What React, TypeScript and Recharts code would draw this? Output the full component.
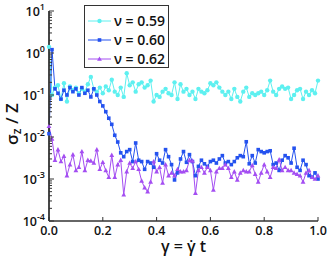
import { LineChart, Line, XAxis, YAxis, Legend, Label } from 'recharts'

const nu059 = [
  1.4, 0.1, 0.15, 0.17, 0.08, 0.19, 0.07, 0.16, 0.13, 0.15,
  0.11, 0.14, 0.12, 0.18, 0.27, 0.14, 0.12, 0.15, 0.11, 0.16,
  0.13, 0.23, 0.12, 0.1, 0.15, 0.09, 0.33, 0.17, 0.2, 0.12,
  0.18, 0.2, 0.15, 0.17, 0.22, 0.07, 0.1, 0.09, 0.12, 0.14,
  0.11, 0.1, 0.2, 0.08, 0.18, 0.12, 0.14, 0.1, 0.12, 0.08,
  0.14, 0.12, 0.11, 0.13, 0.19, 0.17, 0.2, 0.15, 0.12, 0.1,
  0.12, 0.08, 0.14, 0.09, 0.07, 0.12, 0.15, 0.09, 0.11, 0.1,
  0.11, 0.12, 0.1, 0.13, 0.22, 0.12, 0.1, 0.14, 0.16, 0.14,
  0.15, 0.08, 0.1, 0.13, 0.14, 0.08, 0.12, 0.1, 0.13, 0.11,
  0.22,
]

const nu060 = [
  0.012, 1.2, 0.14, 0.11, 0.08, 0.13, 0.1, 0.15, 0.12, 0.14,
  0.1, 0.15, 0.11, 0.13, 0.09, 0.14, 0.1, 0.07, 0.055, 0.04,
  0.028, 0.02, 0.011, 0.0076, 0.0042, 0.0034, 0.0045, 0.005, 0.0026, 0.0072,
  0.0028, 0.0026, 0.0017, 0.0026, 0.0024, 0.0019, 0.004, 0.0028, 0.0024, 0.005,
  0.0034, 0.0022, 0.00095, 0.0014, 0.003, 0.0045, 0.0025, 0.0038, 0.0026, 0.0012,
  0.002, 0.0028, 0.0023, 0.002, 0.0026, 0.0028, 0.0024, 0.003, 0.0036, 0.0024,
  0.0026, 0.0022, 0.0026, 0.0032, 0.0036, 0.0034, 0.0077, 0.0023, 0.0036, 0.0024,
  0.005, 0.0045, 0.0042, 0.0045, 0.0047, 0.0022, 0.0024, 0.0016, 0.0028, 0.0036,
  0.0032, 0.0024, 0.0054, 0.0019, 0.0016, 0.0028, 0.0022, 0.0012, 0.0011, 0.0014,
  0.001,
]

const nu062 = [
  0.018, 0.009, 0.0028, 0.005, 0.0026, 0.0035, 0.0012, 0.0022, 0.0038, 0.0016,
  0.0019, 0.0045, 0.0016, 0.0028, 0.0027, 0.0024, 0.005, 0.0017, 0.0025, 0.0016,
  0.0011, 0.0037, 0.0011, 0.0022, 0.0028, 0.00042, 0.0015, 0.0024, 0.0018, 0.0026,
  0.0017, 0.0009, 0.00062, 0.0005, 0.00085, 0.0026, 0.0015, 0.0019, 0.0008, 0.0022,
  0.0012, 0.0014, 0.0012, 0.0017, 0.0015, 0.0015, 0.0016, 0.0028, 0.0027, 0.00046,
  0.0016, 0.0019, 0.0014, 0.0019, 0.0016, 0.00055, 0.0015, 0.0018, 0.0018, 0.0022,
  0.0018, 0.0011, 0.0015, 0.00095, 0.0014, 0.0016, 0.0015, 0.0015, 0.0021, 0.0013,
  0.00085, 0.0014, 0.0022, 0.0015, 0.0011, 0.0019, 0.0018, 0.0029, 0.0016, 0.0019,
  0.0016, 0.0016, 0.0014, 0.0013, 0.0012, 0.00085, 0.0014, 0.0016, 0.0011, 0.001,
  0.0012,
]

// strain values, evenly spaced samples from 0 to 1
const gamma = nu059.map((_, i) => i / (nu059.length - 1))

const seriesKeys = ['a', 'b', 'c']
const seriesNames = ['ν = 0.59', 'ν = 0.60', 'ν = 0.62']
const seriesColors = ['#5ef0f0', '#2452ef', '#a44ef2']
const seriesShapes = ['circle', 'square', 'triangle']

const xTicks = [0, 0.2, 0.4, 0.6, 0.8, 1]
const xTickLabels = ['0.0', '0.2', '0.4', '0.6', '0.8', '1.0']
const yDecades = [1e-4, 1e-3, 1e-2, 1e-1, 1, 10]
const yExponents = ['-4', '-3', '-2', '-1', '0', '1']
const yMinor = yDecades.slice(0, -1).flatMap((d) => [2, 3, 4, 5, 6, 7, 8, 9].map((m) => d * m))
const yTicks = [...yDecades, ...yMinor].sort((a, b) => a - b)

const data = gamma.map((g, i) => ({ g, a: nu059[i], b: nu060[i], c: nu062[i] }))

const FONT = '"Open Sans", sans-serif'
const AXIS = '#333'

function marker(shape: string, cx: number, cy: number, color: string, key?: string) {
  if (shape === 'circle') return <circle key={key} cx={cx} cy={cy} r={2.2} fill={color} />
  if (shape === 'square')
    return <rect key={key} x={cx - 1.8} y={cy - 1.8} width={3.6} height={3.6} fill={color} />
  return (
    <polygon
      key={key}
      points={`${cx},${cy - 2.6} ${cx - 2.4},${cy + 1.8} ${cx + 2.4},${cy + 1.8}`}
      fill={color}
    />
  )
}

function makeDot(idx: number) {
  return (props: any) => {
    const { cx, cy, index } = props
    if (cx == null || cy == null) return <g key={`e${idx}-${index}`} />
    return marker(seriesShapes[idx], cx, cy, seriesColors[idx], `d${idx}-${index}`)
  }
}

function LeftTick(props: any) {
  const { x, y, payload } = props
  const idx = yDecades.indexOf(payload.value)
  const major = idx >= 0
  return (
    <g>
      <line x1={x} x2={x + (major ? 5 : 3)} y1={y} y2={y} stroke={AXIS} />
      {major && (
        <text
          x={x - 4}
          y={y + 5}
          textAnchor="end"
          fontSize={12.5}
          fontWeight={600}
          fontFamily={FONT}
          fill="#111"
        >
          10
          <tspan dy={-6} fontSize={9}>
            {yExponents[idx]}
          </tspan>
        </text>
      )}
    </g>
  )
}

function RightTick(props: any) {
  const { x, y, payload } = props
  const major = yDecades.includes(payload.value)
  return <line x1={x} x2={x - (major ? 5 : 3)} y1={y} y2={y} stroke={AXIS} />
}

function BottomTick(props: any) {
  const { x, y, payload } = props
  const idx = xTicks.indexOf(payload.value)
  return (
    <g>
      <line x1={x} x2={x} y1={y} y2={y - 4} stroke={AXIS} />
      <text
        x={x}
        y={y + 14}
        textAnchor="middle"
        fontSize={12.5}
        fontWeight={600}
        fontFamily={FONT}
        fill="#111"
      >
        {xTickLabels[idx]}
      </text>
    </g>
  )
}

function TopTick(props: any) {
  const { x, y } = props
  return <line x1={x} x2={x} y1={y} y2={y + 4} stroke={AXIS} />
}

function YLabel(props: any) {
  const { viewBox } = props
  const cx = viewBox.x + 18
  const cy = viewBox.y + viewBox.height / 2 + 8
  return (
    <text
      x={cx}
      y={cy}
      transform={`rotate(-90 ${cx} ${cy})`}
      textAnchor="middle"
      fontSize={17}
      fontWeight={600}
      fontFamily={FONT}
      fill="#111"
    >
      σ
      <tspan dy={3} fontSize={12}>
        z
      </tspan>
      <tspan dy={-3}> / Z</tspan>
    </text>
  )
}

function XLabel(props: any) {
  const { viewBox } = props
  return (
    <text
      x={viewBox.x + viewBox.width / 2}
      y={viewBox.y + 31}
      textAnchor="middle"
      fontSize={16}
      fontWeight={600}
      fontFamily={FONT}
      fill="#111"
    >
      {'γ = γ\u0307 t'}
    </text>
  )
}

function LegendBox() {
  return (
    <div
      style={{
        boxSizing: 'border-box',
        width: 85,
        height: 63,
        border: `1.5px solid ${AXIS}`,
        background: '#fff',
        paddingTop: 5,
        paddingLeft: 3,
      }}
    >
      {seriesNames.map((name, i) => (
        <div key={name} style={{ display: 'flex', alignItems: 'center', height: 19 }}>
          <svg width={23} height={8}>
            <line x1={0} x2={23} y1={4} y2={4} stroke={seriesColors[i]} strokeWidth={1} />
            {marker(seriesShapes[i], 11.5, 4, seriesColors[i])}
          </svg>
          <span
            style={{
              marginLeft: 3,
              fontSize: 14,
              fontWeight: 600,
              fontFamily: FONT,
              color: '#111',
              whiteSpace: 'nowrap',
            }}
          >
            {name}
          </span>
        </div>
      ))}
    </div>
  )
}

export default function App() {
  return (
    <div style={{ position: 'absolute', left: 0, top: 0, background: '#fff' }}>
      <LineChart width={332} height={257} data={data} margin={{ top: 11, right: 14, left: 0, bottom: 0 }}>
        <XAxis
          dataKey="g"
          type="number"
          domain={[0, 1]}
          ticks={xTicks}
          height={36}
          tickSize={0}
          tickMargin={0}
          tickLine={false}
          tick={<BottomTick />}
          axisLine={{ stroke: AXIS, strokeWidth: 1.5 }}
          label={<Label content={<XLabel />} />}
        />
        <XAxis
          xAxisId="t"
          orientation="top"
          dataKey="g"
          type="number"
          domain={[0, 1]}
          ticks={xTicks}
          height={0}
          tickSize={0}
          tickMargin={0}
          tickLine={false}
          tick={<TopTick />}
          axisLine={{ stroke: AXIS, strokeWidth: 1.5 }}
        />
        <YAxis
          scale="log"
          type="number"
          domain={[1e-4, 10]}
          allowDataOverflow
          ticks={yTicks}
          interval={0}
          width={49}
          tickSize={0}
          tickMargin={0}
          tickLine={false}
          tick={<LeftTick />}
          axisLine={{ stroke: AXIS, strokeWidth: 1.8 }}
          label={<Label content={<YLabel />} />}
        />
        <YAxis
          yAxisId="r"
          orientation="right"
          scale="log"
          type="number"
          domain={[1e-4, 10]}
          allowDataOverflow
          ticks={yTicks}
          interval={0}
          width={0}
          tickSize={0}
          tickMargin={0}
          tickLine={false}
          tick={<RightTick />}
          axisLine={{ stroke: AXIS, strokeWidth: 1.5 }}
        />
        <Legend
          layout="horizontal"
          verticalAlign="middle"
          align="center"
          content={<LegendBox />}
          wrapperStyle={{ top: 5, left: 84, width: 85, height: 63 }}
        />
        {seriesKeys.map((k, i) => (
          <Line
            key={k}
            dataKey={k}
            name={seriesNames[i]}
            stroke={seriesColors[i]}
            strokeWidth={1}
            dot={makeDot(i)}
            activeDot={false}
            isAnimationActive={false}
          />
        ))}
      </LineChart>
    </div>
  )
}
